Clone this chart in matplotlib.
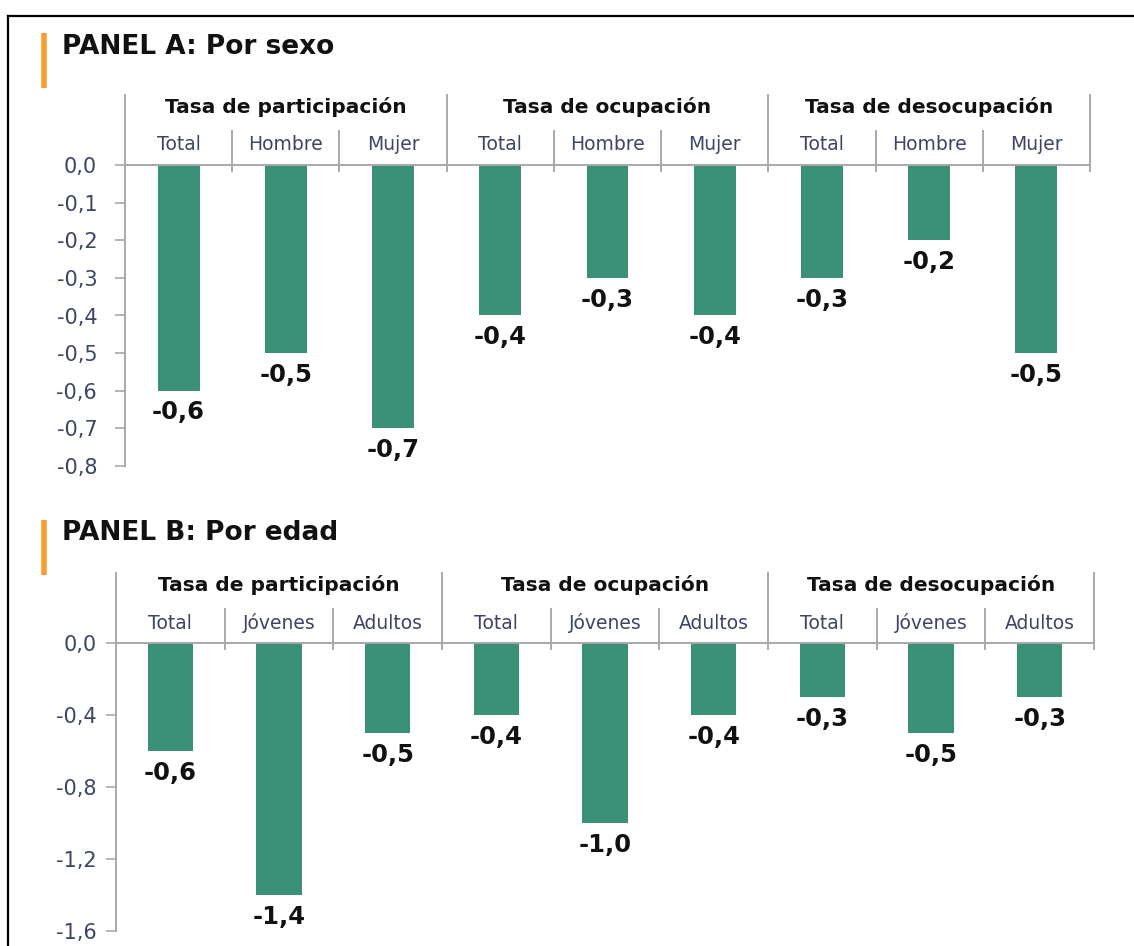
import matplotlib
matplotlib.use("Agg")
import matplotlib.pyplot as plt
from matplotlib.lines import Line2D

plt.rcParams['font.family'] = ['DejaVu Sans']

# ---- data ----
groups = ["Tasa de participación", "Tasa de ocupación", "Tasa de desocupación"]
sub_a = ["Total", "Hombre", "Mujer"]
vals_a = [-0.6, -0.5, -0.7, -0.4, -0.3, -0.4, -0.3, -0.2, -0.5]
ticks_a = [0.0, -0.1, -0.2, -0.3, -0.4, -0.5, -0.6, -0.7, -0.8]

sub_b = ["Total", "Jóvenes", "Adultos"]
vals_b = [-0.6, -1.4, -0.5, -0.4, -1.0, -0.4, -0.3, -0.5, -0.3]
ticks_b = [0.0, -0.4, -0.8, -1.2, -1.6]

W, H = 1134, 946
BAR = "#3a9178"
GRID = "#a8a8a8"
TICKC = "#3c4664"

fig = plt.figure(figsize=(W / 100, H / 100), dpi=100)


def fx(px):
    return px / W


def fy(py):
    return 1 - py / H


def panel(title, title_y, bar_top, left, right, top, bottom, subs, vals, ticks, bw, pad):
    ax = fig.add_axes([fx(left), fy(bottom), fx(right - left), fy(top) - fy(bottom)])
    hpx = bottom - top

    def ay(py):  # pixel row -> axes fraction
        return 1 + (top - py) / hpx

    n = len(vals)
    x = list(range(n))
    ax.bar(x, vals, width=bw, color=BAR, zorder=2)
    ax.set_xlim(-0.5, n - 0.5)
    ax.set_ylim(ticks[-1], 0)
    for s in ax.spines.values():
        s.set_visible(False)
    ax.set_xticks([])
    ax.set_yticks(ticks)
    ax.set_yticklabels([f"{t:.1f}".replace(".", ",") for t in ticks])
    ax.tick_params(axis='y', length=7, width=1.2, color=GRID, labelcolor=TICKC,
                   labelsize=15, pad=pad)

    tr = ax.get_xaxis_transform()
    # zero line
    ax.add_line(Line2D([-0.5, n - 0.5], [1, 1], transform=tr, color=GRID, lw=1.4,
                       clip_on=False, zorder=3))
    # left axis line running up into the header
    ax.add_line(Line2D([-0.5, -0.5], [0, ay(top - 70)], transform=tr, color=GRID,
                       lw=1.4, clip_on=False))
    # group separators
    for g in range(1, len(groups) + 1):
        xs = g * 3 - 0.5
        ax.add_line(Line2D([xs, xs], [ay(top + 6), ay(top - 70)], transform=tr,
                           color=GRID, lw=1.4, clip_on=False))
    # sub separators
    for i in range(n - 1):
        if (i + 1) % 3 == 0:
            continue
        xs = i + 0.5
        ax.add_line(Line2D([xs, xs], [ay(top + 6), ay(top - 34)], transform=tr,
                           color=GRID, lw=1.4, clip_on=False))
    # header labels
    for g, name in enumerate(groups):
        ax.text(g * 3 + 1, ay(top - 58), name, transform=tr, ha='center',
                va='center', fontsize=14.5, fontweight='bold', color='#111111')
    for i in range(n):
        ax.text(i, ay(top - 20), subs[i % 3], transform=tr, ha='center',
                va='center', fontsize=13.5, color=TICKC)
    # value labels
    for xi, v in zip(x, vals):
        ax.annotate(f"{v:.1f}".replace(".", ","), (xi, v), xytext=(0, -7),
                    textcoords='offset points', ha='center', va='top',
                    fontsize=17.5, fontweight='bold', color='#111111')
    # title and orange marker
    fig.text(fx(62), fy(title_y), title, fontsize=19, fontweight='bold',
             ha='left', va='center', color='#111111')
    fig.add_artist(Line2D([fx(43.5), fx(43.5)], [fy(bar_top), fy(bar_top + 55)],
                          color='#f7a030', lw=4, solid_capstyle='butt'))
    return ax


panel("PANEL A: Por sexo", 47, 33, 125, 1090, 165, 466, sub_a, vals_a, ticks_a, 0.39, 13)
panel("PANEL B: Por edad", 533, 520, 116, 1094, 643, 931, sub_b, vals_b, ticks_b, 0.42, 7)

# outer frame (top and left only)
fig.add_artist(Line2D([fx(8), 1], [fy(16), fy(16)], color='black', lw=1.6))
fig.add_artist(Line2D([fx(8), fx(8)], [fy(16), 0], color='black', lw=1.6))

fig.savefig("out.png", dpi=100, facecolor='white')
